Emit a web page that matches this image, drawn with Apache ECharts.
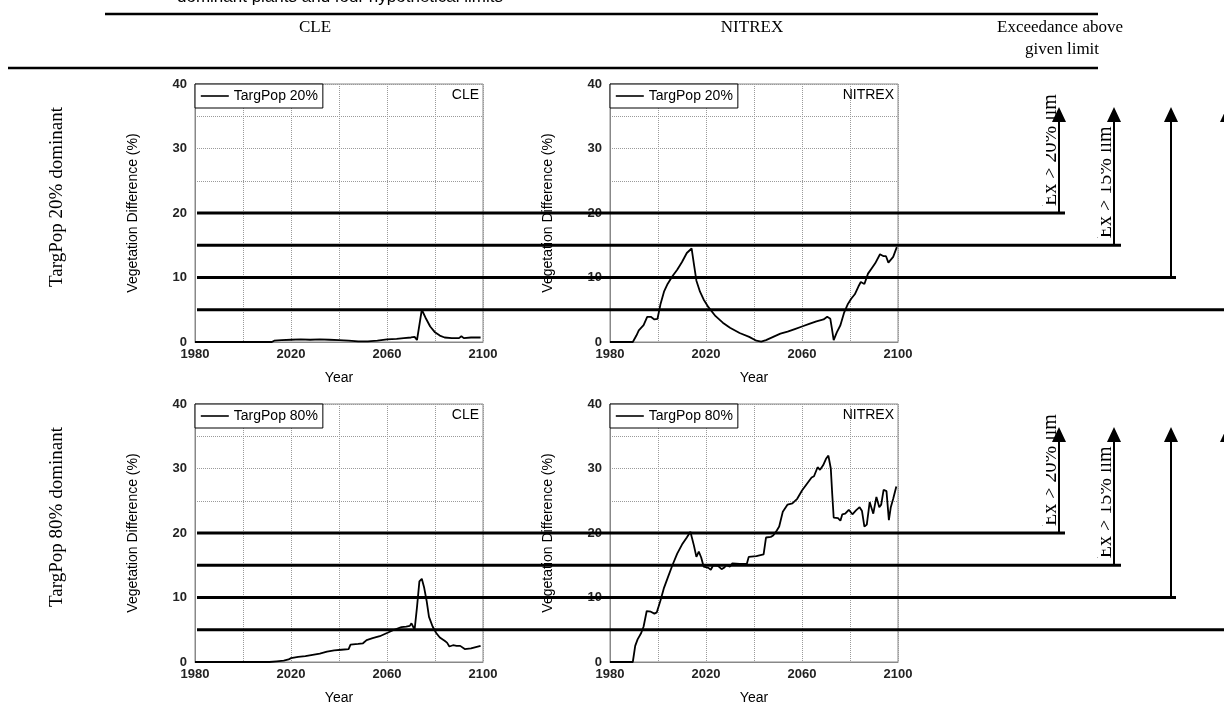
<!DOCTYPE html>
<html>
<head>
<meta charset="utf-8">
<script src="https://cdn.jsdelivr.net/npm/echarts@6/dist/echarts.min.js"></script>
<style>
  html, body { margin: 0; padding: 0; background: #fff; }
  #main { width: 1224px; height: 707px; }
</style>
</head>
<body>
<div id="main"></div>
<script>
// year / vegetation difference (%)
const cle20 = [[1980,0],[2012,0],[2013,0.2],[2016,0.3],[2020,0.35],[2024,0.4],[2028,0.35],[2032,0.4],[2036,0.35],[2040,0.3],[2044,0.2],[2048,0.1],[2052,0.1],[2056,0.2],[2060,0.4],[2064,0.5],[2067,0.6],[2070,0.7],[2071.5,0.8],[2072.5,0.3],[2074.5,5.0],[2076,3.8],[2078,2.4],[2080,1.5],[2082,1.0],[2084,0.7],[2087,0.6],[2090,0.6],[2091,0.9],[2092,0.6],[2095,0.7],[2099,0.7]];
const nit20 = [[1980,0],[1989.5,0],[1991,1.0],[1992,1.8],[1994,2.6],[1995.5,3.9],[1997,3.9],[1998.5,3.5],[1999.8,3.6],[2001,5.8],[2002.5,7.8],[2004,9.0],[2006,10.2],[2008,11.2],[2010,12.4],[2012,13.8],[2014,14.5],[2015,12.0],[2016,9.5],[2017.5,7.8],[2019,6.6],[2021,5.4],[2024,4.0],[2027,3.0],[2030,2.2],[2034,1.4],[2038,0.8],[2041,0.2],[2043,0.05],[2045,0.3],[2048,0.8],[2051,1.3],[2054,1.6],[2057,2.0],[2060,2.4],[2063,2.8],[2066,3.2],[2069,3.5],[2070.5,3.9],[2071.8,3.6],[2072.5,2.0],[2073.2,0.3],[2074.5,1.5],[2076,2.6],[2077.5,4.5],[2079,5.8],[2080.5,6.7],[2082,7.4],[2083.5,8.6],[2084.5,9.3],[2086,9.0],[2087.5,10.6],[2089,11.4],[2090.5,12.2],[2092.5,13.6],[2094,13.3],[2095,13.3],[2096,12.3],[2096.7,12.0],[2098,13.2],[2099.5,14.7]];
const cle80 = [[1980,0],[2011,0],[2014,0.1],[2017,0.2],[2019,0.4],[2020,0.6],[2023,0.8],[2026,0.9],[2029,1.1],[2032,1.3],[2035,1.6],[2038,1.8],[2041,1.9],[2044,2.0],[2044.8,2.7],[2048,2.8],[2050,2.9],[2051.5,3.4],[2054,3.7],[2057,4.0],[2060,4.5],[2063,5.0],[2066,5.4],[2068,5.5],[2069.5,5.6],[2070.2,6.0],[2071.5,5.0],[2072.5,8.5],[2073.5,12.5],[2074.5,12.9],[2075.5,11.5],[2076.5,9.5],[2077.5,7.0],[2079,5.5],[2080.5,4.5],[2082,3.8],[2084,3.3],[2085,3.0],[2086,2.4],[2087.5,2.6],[2089,2.5],[2090.5,2.5],[2091.2,2.8],[2092.4,2.0],[2095,2.1],[2097,2.3],[2099,2.5]];
const nit80 = [[1980,0],[1989.5,0],[1990.5,2.5],[1991.5,3.5],[1993,4.5],[1994,5.5],[1995.3,7.9],[1997,7.8],[1998.5,7.5],[1999.5,7.7],[2001,9.5],[2002.5,11.5],[2004,13.0],[2006,15.0],[2008,16.8],[2010,18.2],[2012,19.3],[2013.5,20.2],[2015,18.0],[2016,16.3],[2017,17.1],[2018,16.2],[2019,14.8],[2021,14.6],[2022,14.3],[2023,15.0],[2025,14.9],[2026.5,14.4],[2027.5,14.6],[2028.5,15.0],[2030,14.8],[2031,15.3],[2034,15.2],[2037,15.2],[2037.8,16.3],[2041,16.4],[2044,16.7],[2045,19.3],[2047,19.4],[2048,19.6],[2049.5,20.4],[2050.5,21.0],[2052,23.3],[2054,24.4],[2056,24.6],[2058,25.3],[2060,26.6],[2062,27.6],[2064,28.6],[2065,28.8],[2066.5,30.2],[2067.5,29.8],[2068.8,30.5],[2070,31.5],[2071,32.0],[2072,30.0],[2072.6,26.0],[2073.2,22.4],[2075,22.3],[2076,21.9],[2076.8,22.9],[2078,23.0],[2079.5,23.6],[2081,22.9],[2082.5,23.5],[2084,24.0],[2085,23.4],[2086,21.0],[2087,21.3],[2088.2,24.8],[2089,24.5],[2089.7,23.0],[2091,25.6],[2092.2,24.0],[2093,24.4],[2094,26.7],[2095.2,26.5],[2096.2,22.0],[2097,24.0],[2098,25.3],[2099.3,27.2]];

const panelData = [cle20, nit20, cle80, nit80];
const seriesNames = ['TargPop 20%', 'TargPop 20%', 'TargPop 80%', 'TargPop 80%'];
const scenarioNames = ['CLE', 'NITREX', 'CLE', 'NITREX'];
const rowLabels = ['TargPop 20% dominant', 'TargPop 80% dominant'];
const limits = [20, 15, 10, 5];
const limitLabels = ['Ex > 20% lim', 'Ex > 15% lim'];
const xTicks = [1980, 2020, 2060, 2100];
const yTicks = [0, 10, 20, 30, 40];

const grids = [
  { left: 195, top: 84, width: 288, height: 258 },
  { left: 610, top: 84, width: 288, height: 258 },
  { left: 195, top: 404, width: 288, height: 258 },
  { left: 610, top: 404, width: 288, height: 258 }
];
// where the limit lines stop and their arrows sit
const lineEnds = [1065, 1121, 1176, 1226];
const arrowX = [1059, 1114, 1171, 1227];

const sans = 'Liberation Sans, Arial, sans-serif';
const serif = 'Liberation Serif, Times New Roman, serif';
const gridLine = { show: true, lineStyle: { color: '#9a9a9a', type: [1, 1], width: 1 } };

const chart = echarts.init(document.getElementById('main'));

chart.setOption({
  animation: false,
  grid: grids.map(g => Object.assign({ show: true, borderColor: '#888', borderWidth: 1, backgroundColor: 'transparent' }, g)),
  xAxis: grids.map((g, i) => ({
    type: 'value', gridIndex: i, min: 1980, max: 2100, interval: 20,
    name: 'Year', nameLocation: 'middle', nameGap: 29,
    nameTextStyle: { fontFamily: sans, fontSize: 14, color: '#000' },
    axisLine: { show: true, lineStyle: { color: '#888' } },
    axisTick: { show: false },
    axisLabel: {
      fontFamily: sans, fontSize: 13, fontWeight: 'bold', color: '#222', margin: 6,
      formatter: v => xTicks.includes(v) ? String(v) : ''
    },
    splitLine: gridLine
  })),
  yAxis: grids.map((g, i) => ({
    type: 'value', gridIndex: i, min: 0, max: 40, interval: 5,
    name: 'Vegetation Difference (%)', nameLocation: 'middle', nameGap: 55, nameRotate: 90,
    nameTextStyle: { fontFamily: sans, fontSize: 14, color: '#000' },
    axisLine: { show: true, lineStyle: { color: '#888' } },
    axisTick: { show: false },
    axisLabel: {
      fontFamily: sans, fontSize: 13, fontWeight: 'bold', color: '#222', margin: 8,
      formatter: v => yTicks.includes(v) ? String(v) : ''
    },
    splitLine: gridLine
  })),
  legend: grids.map((g, i) => ({
    data: [seriesNames[i]],
    left: g.left, top: g.top,
    orient: 'vertical',
    backgroundColor: '#fff', borderColor: '#000', borderWidth: 1, borderRadius: 0,
    padding: [5, 5, 5, 5],
    itemWidth: 28, itemHeight: 12, itemGap: 4,
    itemStyle: { opacity: 0 },
    lineStyle: { color: '#000', width: 1.6 },
    selectedMode: false,
    textStyle: { fontFamily: sans, fontSize: 14, color: '#000' }
  })),
  series: panelData.map((d, i) => ({
    name: seriesNames[i],
    type: 'line',
    xAxisIndex: i, yAxisIndex: i,
    data: d,
    symbol: 'none',
    lineStyle: { color: '#000', width: 1.8 },
    itemStyle: { color: '#000' },
    z: 3
  }))
});

// overlay: header table rules, row labels, limit lines and arrows
const g = [];
g.push({ type: 'text', left: 177, top: -11, style: { text: 'dominant plants and four hypothetical limits', font: '17px ' + sans, fill: '#000' } });
g.push({ type: 'line', shape: { x1: 105, y1: 14, x2: 1098, y2: 14 }, style: { stroke: '#000', lineWidth: 2.5 } });
g.push({ type: 'line', shape: { x1: 8, y1: 68, x2: 1098, y2: 68 }, style: { stroke: '#000', lineWidth: 2.5 } });
[['CLE', 315, 28], ['NITREX', 752, 28], ['Exceedance above', 1060, 28], ['given limit', 1062, 50]].forEach(t => {
  g.push({ type: 'text', x: t[1], y: t[2], style: { text: t[0], font: '17px ' + serif, fill: '#000', textAlign: 'center', textVerticalAlign: 'middle' } });
});

grids.forEach((gr, i) => {
  // scenario tag top right of each panel
  const p = chart.convertToPixel({ gridIndex: i }, [2100, 40]);
  g.push({ type: 'text', x: p[0] - 4, y: p[1] + 11, style: { text: scenarioNames[i], font: '14px ' + sans, fill: '#000', textAlign: 'right', textVerticalAlign: 'middle' }, z: 10 });
});

[0, 2].forEach((gi, row) => {
  const top = chart.convertToPixel({ gridIndex: gi }, [1980, 40]);
  const bot = chart.convertToPixel({ gridIndex: gi }, [1980, 0]);
  const tipY = top[1] + 23;
  g.push({ type: 'text', x: 57, y: (top[1] + bot[1]) / 2 - 16, rotation: Math.PI / 2, style: { text: rowLabels[row], font: '19px ' + serif, fill: '#000', textAlign: 'center', textVerticalAlign: 'middle' } });
  // rotated limit captions, partly hidden like the clipped text boxes of the original
  limitLabels.forEach((txt, k) => {
    const y = chart.convertToPixel({ gridIndex: gi }, [1980, limits[k]])[1];
    g.push({ type: 'text', x: arrowX[k] + 2, y: y - 7, rotation: Math.PI / 2, style: { text: txt, font: '20px ' + serif, fill: '#000', textAlign: 'left', textVerticalAlign: 'bottom' }, z: 21 });
    g.push({ type: 'rect', shape: { x: arrowX[k] - 30, y: top[1] - 12, width: 17, height: y - top[1] + 4 }, style: { fill: '#fff' }, z: 22 });
  });
  limits.forEach((lim, k) => {
    const y = chart.convertToPixel({ gridIndex: gi }, [1980, lim])[1];
    g.push({ type: 'line', shape: { x1: 197, y1: y, x2: lineEnds[k], y2: y }, style: { stroke: '#000', lineWidth: 2.8 }, z: 30 });
    g.push({ type: 'line', shape: { x1: arrowX[k], y1: y, x2: arrowX[k], y2: tipY + 12 }, style: { stroke: '#000', lineWidth: 2 }, z: 30 });
    g.push({ type: 'polygon', shape: { points: [[arrowX[k], tipY], [arrowX[k] - 7, tipY + 15], [arrowX[k] + 7, tipY + 15]] }, style: { fill: '#000' }, z: 30 });
  });
});

chart.setOption({ graphic: { elements: g } });
</script>
</body>
</html>
